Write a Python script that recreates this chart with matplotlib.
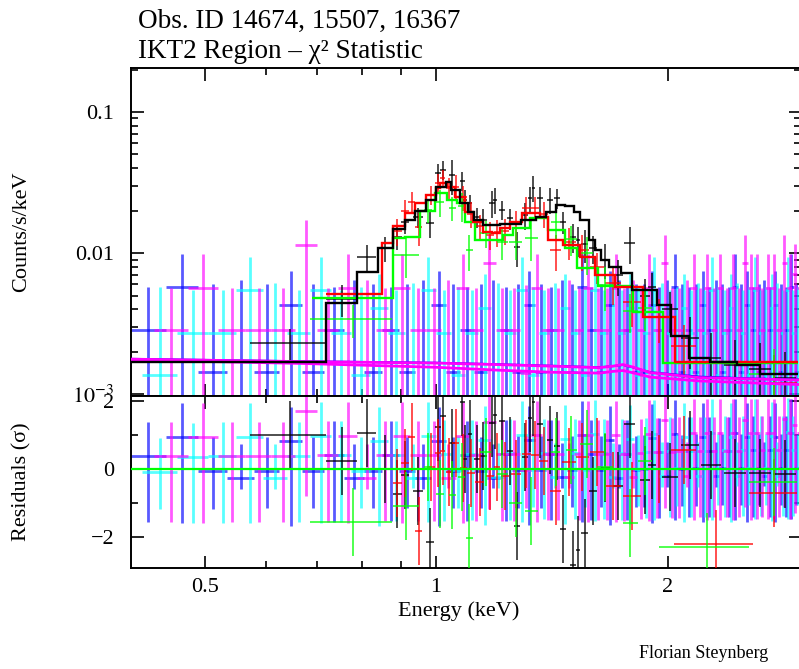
import numpy as np
import matplotlib
matplotlib.use("Agg")
import matplotlib.pyplot as plt
from matplotlib.ticker import FixedLocator, NullFormatter

plt.rcParams['font.family'] = ['Liberation Serif', 'DejaVu Serif']
plt.rcParams['mathtext.fontset'] = 'stix'

## source models, step functions in counts/s/keV
black_edges = [0.40, 0.72, 0.79, 0.84, 0.88, 0.91, 0.94, 0.97, 1.00, 1.03, 1.045, 1.075,
               1.10, 1.12, 1.15, 1.21, 1.29, 1.35, 1.39, 1.43, 1.47, 1.51, 1.54, 1.58,
               1.61, 1.64, 1.68, 1.74, 1.80, 1.94, 2.02, 2.13, 2.27, 2.46, 2.64, 2.96]
black_model = [0.0017, 0.0044, 0.0073, 0.0108, 0.0148, 0.0171, 0.0199, 0.0238, 0.0294,
               0.0319, 0.0280, 0.0226, 0.0195, 0.0171, 0.0158, 0.0160, 0.0171, 0.0180,
               0.0195, 0.0219, 0.0215, 0.0195, 0.0171, 0.0124, 0.0105, 0.0089, 0.0080,
               0.0072, 0.0055, 0.0043, 0.0026, 0.0018, 0.0017, 0.0016, 0.0014]

red_edges = [0.72, 0.85, 0.88, 0.91, 0.94, 0.97, 1.00, 1.012, 1.033, 1.058, 1.091, 1.117,
             1.151, 1.183, 1.211, 1.248, 1.294, 1.365, 1.398, 1.463, 1.538, 1.61, 1.709,
             1.858, 2.045, 2.96]
red_model = [0.0051, 0.0118, 0.0155, 0.0192, 0.0226, 0.0258, 0.0290, 0.0314, 0.0294,
             0.0249, 0.0195, 0.0166, 0.0141, 0.0139, 0.0150, 0.0166, 0.0192, 0.0180,
             0.0124, 0.0114, 0.0094, 0.0070, 0.0057, 0.0035, 0.0017]

green_edges = [0.69, 0.879, 0.911, 0.953, 0.997, 1.033, 1.065, 1.091, 1.124, 1.222, 1.259,
               1.325, 1.398, 1.471, 1.525, 1.624, 1.804, 1.973, 2.96]
green_model = [0.0048, 0.0128, 0.0130, 0.0200, 0.0266, 0.0238, 0.0226, 0.0166, 0.0124,
               0.0134, 0.0150, 0.0177, 0.0146, 0.0108, 0.0078, 0.0058, 0.0038, 0.00166]

## background models
bkg_model_E = [0.40, 0.67, 1.00, 1.20, 1.41, 1.63, 1.70, 1.75, 1.80, 1.90, 2.20, 2.60, 2.96]
bkg_model_hi = [0.00177, 0.00170, 0.00166, 0.00162, 0.00158, 0.00154, 0.00158, 0.00162,
                0.00156, 0.00142, 0.00131, 0.00128, 0.00126]
bkg_model_lo = [0.00175, 0.00165, 0.00155, 0.00148, 0.00143, 0.00141, 0.00145, 0.00147,
                0.00142, 0.00132, 0.00124, 0.00120, 0.00117]
bkg_model_blue = [0.00178, 0.00171, 0.00167, 0.00163, 0.00159, 0.00155, 0.00158, 0.00161,
                  0.00155, 0.00143, 0.00133, 0.00129, 0.00127]

## source spectra: centre, half width, value, error
black_E = [0.646, 0.755, 0.813, 0.858, 0.89, 0.911, 0.947, 0.982, 1.006, 1.021, 1.049, 1.081,
           1.091, 1.107, 1.131, 1.151, 1.183, 1.193, 1.218, 1.248, 1.274, 1.305, 1.325, 1.337,
           1.365, 1.407, 1.436, 1.463, 1.507, 1.529, 1.56, 1.60, 1.66, 1.724, 1.787, 1.87,
           1.91, 2.015, 2.14, 2.28, 2.45, 2.64, 2.84]
black_hw = [0.074, 0.035, 0.023, 0.015, 0.012, 0.012, 0.015, 0.012, 0.008, 0.008, 0.010, 0.008,
            0.006, 0.008, 0.010, 0.012, 0.010, 0.006, 0.012, 0.012, 0.012, 0.012, 0.008, 0.006,
            0.012, 0.014, 0.012, 0.012, 0.012, 0.010, 0.015, 0.018, 0.022, 0.025, 0.03, 0.03,
            0.025, 0.05, 0.06, 0.07, 0.08, 0.09, 0.10]
black_val = [0.0023, 0.0047, 0.0094, 0.0108, 0.0130, 0.0166, 0.0180, 0.0163, 0.0369, 0.0388,
             0.0358, 0.0324, 0.0238, 0.0226, 0.0180, 0.0171, 0.0226, 0.0238, 0.0202, 0.0176,
             0.0110, 0.0185, 0.0246, 0.0290, 0.0246, 0.0238, 0.0246, 0.0166, 0.0130, 0.0124,
             0.0115, 0.0108, 0.0090, 0.0070, 0.0118, 0.0050, 0.0057, 0.0040, 0.0025, 0.0018,
             0.0016, 0.0015, 0.0013]
black_err = [0.0006, 0.0012, 0.0020, 0.0022, 0.0025, 0.0030, 0.0030, 0.0035, 0.0060, 0.0060,
             0.0100, 0.0050, 0.0040, 0.0030, 0.0030, 0.0035, 0.0050, 0.0050, 0.0030, 0.0030,
             0.0030, 0.0040, 0.0050, 0.0060, 0.0050, 0.0050, 0.0040, 0.0030, 0.0030, 0.0030,
             0.0030, 0.0025, 0.0025, 0.0020, 0.0035, 0.0015, 0.0015, 0.0013, 0.0010, 0.0009,
             0.0008, 0.0008, 0.0007]

red_E = [0.89, 0.911, 0.93, 0.95, 0.985, 1.006, 1.02, 1.04, 1.06, 1.085, 1.11, 1.14, 1.175,
         1.20, 1.23, 1.27, 1.31, 1.345, 1.38, 1.43, 1.49, 1.55, 1.62, 1.70, 1.80, 1.95, 2.10,
         2.31, 2.75]
red_hw = [0.012, 0.010, 0.010, 0.010, 0.012, 0.008, 0.008, 0.010, 0.010, 0.012, 0.012, 0.015,
          0.015, 0.012, 0.015, 0.018, 0.018, 0.015, 0.018, 0.025, 0.03, 0.03, 0.035, 0.04,
          0.05, 0.07, 0.08, 0.27, 0.2]
red_val = [0.0143, 0.0199, 0.0230, 0.0153, 0.0260, 0.0314, 0.0340, 0.0290, 0.0295, 0.0250,
           0.0190, 0.0155, 0.0135, 0.0141, 0.0144, 0.0160, 0.0210, 0.0208, 0.0190, 0.0105,
           0.0120, 0.0105, 0.0080, 0.0061, 0.0045, 0.0035, 0.0022, 0.0001, 0.0012]
red_err = [0.0030, 0.0040, 0.0040, 0.0040, 0.0040, 0.0050, 0.0050, 0.0050, 0.0060, 0.0050,
           0.0040, 0.0030, 0.0030, 0.0030, 0.0030, 0.0040, 0.0040, 0.0040, 0.0040, 0.0030,
           0.0030, 0.0030, 0.0020, 0.0018, 0.0015, 0.0012, 0.0009, 0.00073, 0.0007]

green_E = [0.78, 0.915, 0.975, 1.012, 1.05, 1.08, 1.105, 1.16, 1.22, 1.27, 1.33, 1.43, 1.50,
           1.57, 1.66, 1.79, 1.87, 2.25, 2.75]
green_hw = [0.095, 0.035, 0.012, 0.012, 0.012, 0.012, 0.012, 0.02, 0.02, 0.025, 0.025, 0.02,
            0.025, 0.03, 0.04, 0.04, 0.04, 0.30, 0.2]
green_val = [0.0034, 0.0097, 0.0202, 0.0230, 0.0208, 0.0215, 0.0105, 0.0139, 0.0120, 0.0120,
             0.0128, 0.0166, 0.0125, 0.0100, 0.0059, 0.0039, 0.0041, 0.0001, 0.0014]
green_err = [0.0009, 0.0030, 0.0040, 0.0050, 0.0040, 0.0050, 0.0030, 0.0030, 0.0030, 0.0030,
             0.0040, 0.0040, 0.0030, 0.0030, 0.0020, 0.0012, 0.0013, 0.00068, 0.0007]

## background spectra: counts per 0.045 keV bin
bkg_width = 0.045
blue_start, cyan_start, magenta_start = 0.400, 0.415, 0.430
blue_base, cyan_base, magenta_base = 1.43e-3, 1.36e-3, 1.42e-3
blue_counts = [2, 4, 1, 0, 1, 3, 1, 2, 0, 1, 2, 1, 0, 3, 1, 2, 1, 0, 2, 1,
               3, 1, 2, 0, 1, 4, 2, 1, 3, 0, 2, 1, 1, 3, 2, 0, 4, 1, 2, 1,
               3, 2, 0, 1, 2, 4, 1, 3, 2, 1, 0, 2, 3, 1, 2, 4, 1]
cyan_counts = [1, 2, 2, 4, 0, 2, 4, 2, 1, 3, 2, 0, 4, 2, 1, 2, 3, 0, 2, 4,
               1, 2, 0, 3, 2, 1, 4, 2, 0, 2, 3, 1, 2, 4, 0, 2, 1, 3, 2, 0,
               2, 4, 1, 2, 3, 0, 2, 1, 4, 2, 1, 3, 0, 2, 4, 2, 1]
magenta_counts = [2, 4, 2, 2, 2, 8, 2, 4, 0, 2, 4, 2, 2, 0, 4, 2, 6, 2, 2, 1,
                  4, 2, 2, 0, 2, 4, 2, 2, 4, 2, 0, 2, 4, 2, 6, 2, 2, 0, 4, 2,
                  4, 2, 4, 2, 4, 2, 6, 4, 4, 2, 4, 4, 2, 6, 4, 5, 4]
# error bar sizes (in units of one count) by number of counts
err_up_counts = [4.5, 3.2, 2.0, 2.2, 2.9, 3.2, 3.5, 3.8, 4.0]
err_lo_counts = [1.4, 3.5, 3.9, 5.5, 7.4, 8.2, 9.0, 9.6, 10.0]

C_BLACK, C_RED, C_GREEN = '#000000', '#ff0000', '#00ff00'
C_BLUE, C_CYAN, C_MAG = '#0000ff', '#00ffff', '#ff00ff'


def step_lookup(edges, vals, e):
    idx = np.clip(np.searchsorted(edges, e) - 1, 0, len(vals) - 1)
    return np.array(vals)[idx]


def cross(ax, x, hw, y, lo, hi, color, lw, alpha):
    x = np.asarray(x)
    hw = np.asarray(hw)
    ax.hlines(y, x - hw, x + hw, colors=color, lw=lw, alpha=alpha, zorder=3)
    ax.vlines(x, lo, hi, colors=color, lw=lw, alpha=alpha, zorder=3)


fig = plt.figure(figsize=(7.99, 6.69), dpi=100)
W, H = 799., 669.
ax1 = fig.add_axes([131 / W, 1 - 396 / H, (801 - 131) / W, (396 - 68) / H])
ax2 = fig.add_axes([131 / W, 1 - 568 / H, (801 - 131) / W, (568 - 396) / H], sharex=ax1)

BLW, BALPHA = 2.0, 0.65

## background data
for counts, start, base, col, mdl in [(blue_counts, blue_start, blue_base, C_BLUE, bkg_model_blue),
                                      (cyan_counts, cyan_start, cyan_base, C_CYAN, bkg_model_lo),
                                      (magenta_counts, magenta_start, magenta_base, C_MAG, bkg_model_hi)]:
    n = np.array(counts)
    left = start + bkg_width * np.arange(len(n))
    cen = left + bkg_width / 2
    rate = n * base
    up = np.array(err_up_counts)[n] * base
    lo = np.array(err_lo_counts)[n] * base
    pos = rate > 0
    ax1.hlines(rate[pos], left[pos], left[pos] + bkg_width, colors=col, lw=BLW, alpha=BALPHA, zorder=2)
    ax1.vlines(cen, np.clip(rate - lo, 1e-5, None), rate + up, colors=col, lw=BLW, alpha=BALPHA, zorder=2)
    m = np.interp(cen, bkg_model_E, mdl)
    r = (rate - m) / up
    ax2.hlines(r, left, left + bkg_width, colors=col, lw=BLW, alpha=BALPHA, zorder=2)
    ax2.vlines(cen, r - lo / up, r + 1, colors=col, lw=BLW, alpha=BALPHA, zorder=2)

## source data
for E, hw, val, err, col, edges, mdl in [(black_E, black_hw, black_val, black_err, C_BLACK, black_edges, black_model),
                                         (red_E, red_hw, red_val, red_err, C_RED, red_edges, red_model),
                                         (green_E, green_hw, green_val, green_err, C_GREEN, green_edges, green_model)]:
    E = np.array(E); val = np.array(val); err = np.array(err)
    cross(ax1, E, hw, val, np.clip(val - err, 1e-5, None), val + err, col, 1.3, 0.75)
    r = (val - step_lookup(edges, mdl, E)) / err
    cross(ax2, E, hw, r, r - 1, r + 1, col, 1.3, 0.75)

## models
ax1.plot(bkg_model_E, bkg_model_lo, color=C_MAG, lw=2.0, zorder=4)
ax1.plot(bkg_model_E, bkg_model_blue, color=C_BLUE, lw=1.4, zorder=4)
ax1.plot(bkg_model_E, bkg_model_hi, color=C_MAG, lw=2.0, zorder=4)
ax1.stairs(green_model, green_edges, baseline=None, color=C_GREEN, lw=1.7, zorder=5)
ax1.stairs(red_model, red_edges, baseline=None, color=C_RED, lw=1.7, zorder=5)
ax1.stairs(black_model, black_edges, baseline=None, color=C_BLACK, lw=1.7, zorder=6)
ax2.axhline(0, color=C_GREEN, lw=1.6, zorder=5)

## axes
ax1.set_xscale('log')
ax1.set_yscale('log')
ax1.set_xlim(0.401, 2.983)
ax1.set_ylim(0.00097, 0.205)
ax2.set_ylim(-2.91, 2.15)

for ax in (ax1, ax2):
    ax.xaxis.set_major_locator(FixedLocator([0.5, 1, 2]))
    ax.xaxis.set_minor_locator(FixedLocator([0.6, 0.7, 0.8, 0.9]))
    ax.xaxis.set_minor_formatter(NullFormatter())
    ax.tick_params(which='both', direction='in', top=True, right=True, labelsize=16,
                   width=1.2, colors='black')
    ax.tick_params(which='major', length=9)
    ax.tick_params(which='minor', length=5)
    for s in ax.spines.values():
        s.set_linewidth(1.4)

ax1.yaxis.set_major_locator(FixedLocator([1e-3, 0.01, 0.1]))
ax1.set_yticklabels([r'$10^{-3}$', '0.01', '0.1'])
ax1.yaxis.set_minor_locator(FixedLocator([0.002, 0.003, 0.004, 0.005, 0.006, 0.007, 0.008, 0.009,
                                          0.02, 0.03, 0.04, 0.05, 0.06, 0.07, 0.08, 0.09, 0.2]))
ax1.yaxis.set_minor_formatter(NullFormatter())
ax1.tick_params(axis='x', labelbottom=False)
ax1.tick_params(axis='y', pad=12)

ax2.yaxis.set_major_locator(FixedLocator([-2, 0, 2]))
ax2.set_yticklabels(['\u22122', '0', '2'])
ax2.yaxis.set_minor_locator(FixedLocator([-1, 1]))
ax2.set_xticklabels(['0.5', '1', '2'])
ax2.tick_params(axis='y', pad=12)
ax2.tick_params(axis='x', pad=7)

## texts
fig.text(138 / W, 1 - 28 / H, 'Obs. ID 14674, 15507, 16367', fontsize=19.5, va='baseline')
fig.text(138 / W, 1 - 58 / H, 'IKT2 Region \u2013 \u03c7\u00b2 Statistic', fontsize=19.5, va='baseline')
fig.text(22 / W, 1 - 232 / H, 'Counts/s/keV', rotation=90, fontsize=16, ha='center', va='center')
fig.text(22 / W, 1 - 482 / H, 'Residuals (\u03c3)', rotation=90, fontsize=16, ha='center', va='center')
fig.text(459 / W, 1 - 611 / H, 'Energy (keV)', fontsize=16, ha='center', va='center')
fig.text(704 / W, 1 - 653 / H, 'Florian Steynberg', fontsize=13, ha='center', va='center')

fig.savefig('out.png', dpi=100)
